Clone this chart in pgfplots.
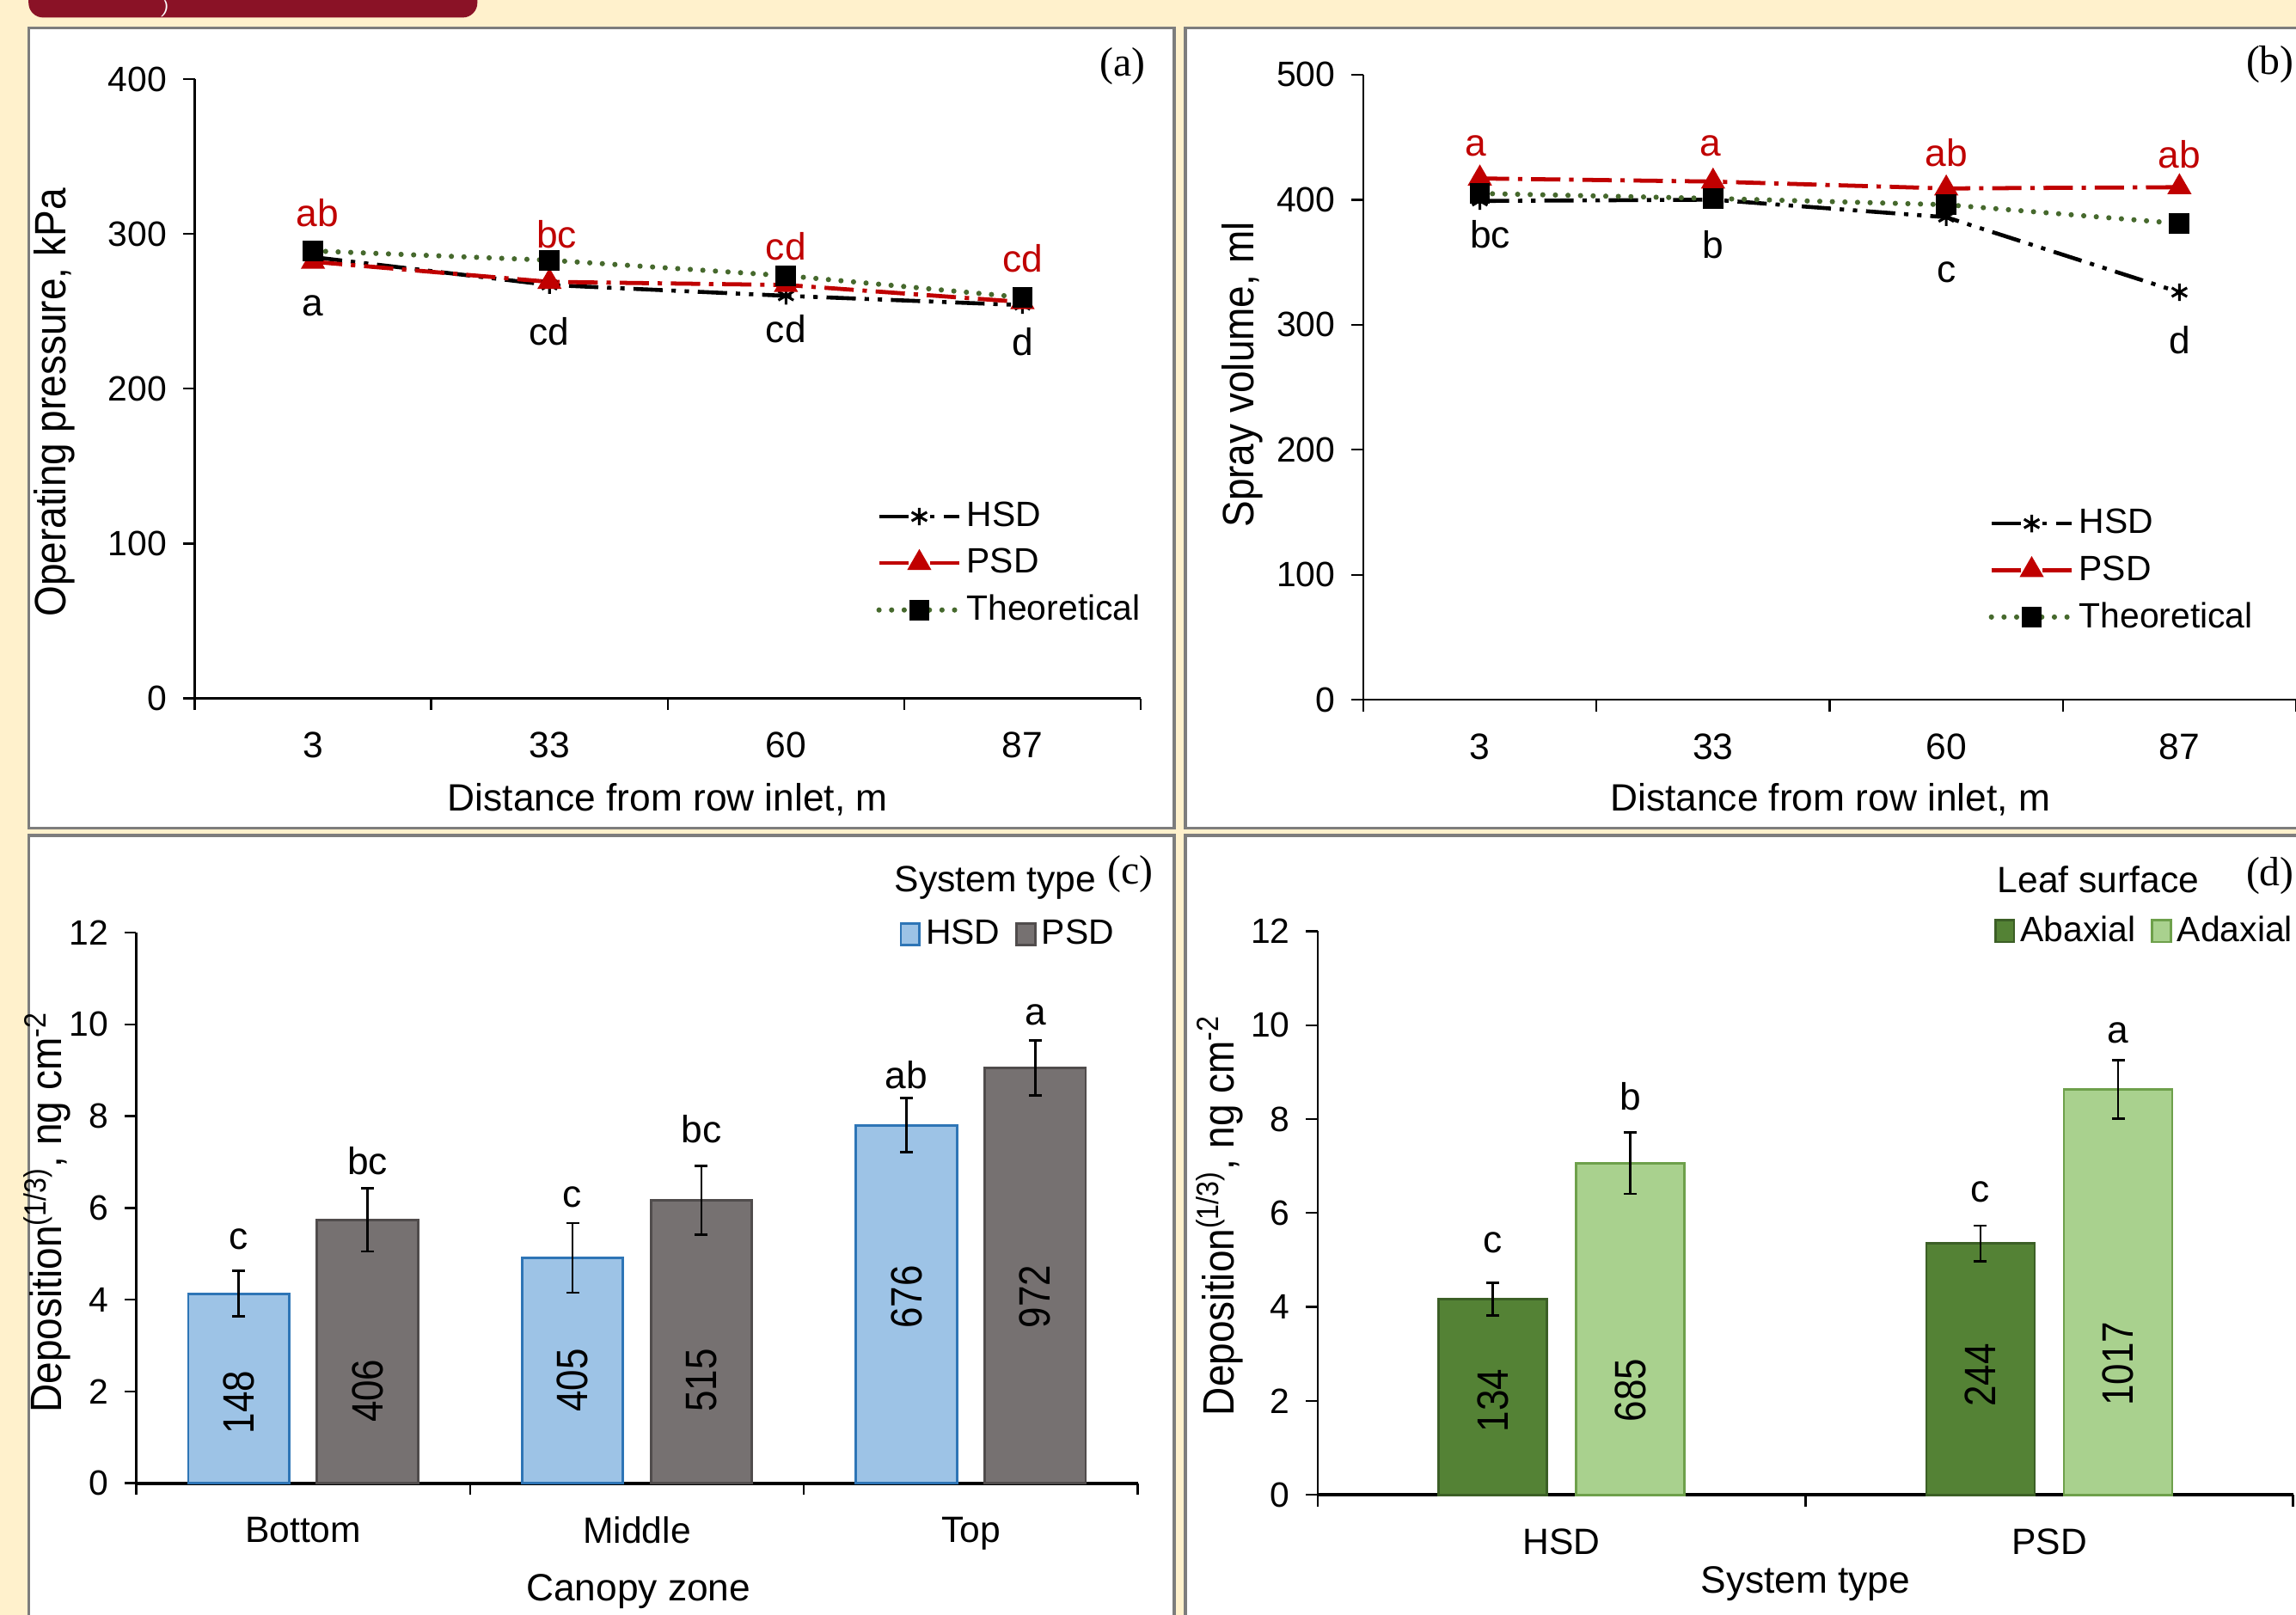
\documentclass[border=0pt]{standalone}
\usepackage{pgfplots}
\pgfplotsset{compat=1.18}
\usepackage{fontspec}
\setmainfont{Liberation Sans}
\newfontfamily\panelfont{Liberation Serif}
\newfontfamily\rotfont[FakeStretch=0.86]{Liberation Sans}
\newfontfamily\labfont[FakeStretch=0.9]{Liberation Sans}
\newcommand{\fs}[1]{\fontsize{#1}{#1}\selectfont}
\definecolor{cream}{RGB}{255,241,204}
\definecolor{tabred}{RGB}{138,18,38}
\definecolor{lred}{RGB}{192,0,0}
\definecolor{dotgreen}{RGB}{70,105,45}
\definecolor{hsdfill}{RGB}{157,195,230}
\definecolor{hsdedge}{RGB}{46,117,182}
\definecolor{psdfill}{RGB}{118,113,113}
\definecolor{psdedge}{RGB}{80,76,76}
\definecolor{abfill}{RGB}{84,130,53}
\definecolor{abedge}{RGB}{60,95,38}
\definecolor{adfill}{RGB}{169,209,142}
\definecolor{adedge}{RGB}{110,160,75}
\definecolor{frame}{RGB}{125,125,125}

\tikzset{
  redletter/.style={text=lred, font=\fs{13}},
  blackletter/.style={text=black, font=\fs{13}},
  barnum/.style={rotate=90, font=\rotfont\fs{15}},
}
\pgfplotsset{
  panel/.style={
    scale only axis, anchor=south west, clip=false,
    axis x line*=bottom, axis y line*=left,
    x axis line style={-, black, line width=0.7pt},
    y axis line style={-, black, line width=0.7pt},
    tick align=outside, major tick length=4pt,
    tick style={black, line width=0.7pt},
    xticklabels={},
    extra x tick style={tick style={draw=none}, tick label style={font=\fs{12.5}, yshift=-4pt}},
    yticklabel style={font=\fs{12}, xshift=-2pt},
    /pgf/number format/assume math mode=true,
    xlabel style={font=\fs{13}, anchor=center},
    ylabel style={font=\labfont\fs{15}, anchor=center},
  },
  hsd/.style={black, line width=1.35pt, dash pattern=on 10pt off 3pt on 1.5pt off 3pt on 1.5pt off 3pt,
    mark=asterisk, mark size=3pt, mark options={solid, line width=0.9pt}},
  psd/.style={lred, line width=1.4pt, dash pattern=on 10pt off 3pt on 1.5pt off 3pt,
    mark=triangle*, mark size=3.4pt, mark options={solid, fill=lred}},
  theo/.style={dotgreen, line width=1.8pt, line cap=round, dash pattern=on 0pt off 4.3pt,
    mark=square*, mark size=2.6pt, mark options={solid, black, fill=black}},
  linelegend/.style={
    legend style={draw=none, fill=none, inner sep=0pt, font=\fs{12}, row sep=3pt,
      nodes={inner sep=1.5pt}},
    legend cell align=left,
    legend image code/.code={\draw[mark repeat=2,mark phase=2,##1] plot coordinates {(0pt,0pt) (13.75pt,0pt) (27.5pt,0pt)};},
  },
  barlegend/.style={
    legend columns=2,
    legend style={draw=none, fill=none, inner sep=0pt, font=\fs{12},
      nodes={inner sep=1.75pt}, /tikz/every even column/.append style={column sep=3.5pt}},
    legend image code/.code={\draw[##1] (0pt,-3.7pt) rectangle (6.4pt,3.7pt);},
  },
}

\begin{document}
\begin{tikzpicture}[x=1pt,y=1pt]
\fill[cream] (0,0) rectangle (784,551.5);
\useasboundingbox (0,0) rectangle (784,551.5);
\clip (0,0) rectangle (784,551.5);
% top tab
\fill[tabred, rounded corners=5pt] (9.75,545.5) rectangle (163,565);
\node[text=white, font=\fs{6}\itshape, inner sep=0pt] at (56.5,548.5) {)};
% panel frames
\filldraw[fill=white, draw=frame, line width=1pt] (9.75,268.75) rectangle (401,542);
\filldraw[fill=white, draw=frame, line width=1pt] (404.75,268.75) rectangle (790,542);
\filldraw[fill=white, draw=frame, line width=1pt] (9.75,-5) rectangle (401,266.25);
\filldraw[fill=white, draw=frame, line width=1pt] (404.75,-5) rectangle (790,266.25);

% ---------------- (a) ----------------
\begin{axis}[panel, linelegend, at={(66.5pt,313pt)}, width=323pt, height=211.5pt,
  xmin=-0.5, xmax=3.5, ymin=0, ymax=400,
  xtick={-0.5,0.5,1.5,2.5,3.5},
  extra x ticks={0,1,2,3}, extra x tick labels={3,33,60,87},
  ytick={0,100,200,300,400},
  xlabel={Distance from row inlet, m},
  ylabel={Operating pressure, kPa},
  xlabel style={at={(axis description cs:0.5,-0.163)}},
  ylabel style={at={(axis description cs:-0.1486,0.4775)}},
  legend style={at={(axis description cs:0.72,0.325)}, anchor=north west},
]
\addplot[hsd] coordinates {(0,285) (1,267) (2,260) (3,254)};
\addlegendentry{HSD}
\addplot[psd] coordinates {(0,282) (1,269) (2,267) (3,256)};
\addlegendentry{PSD}
\addplot[theo] coordinates {(0,289) (1,283) (2,273) (3,259)};
\addlegendentry{Theoretical}
\node[redletter] at (axis cs:0.02,313.5) {ab};
\node[redletter] at (axis cs:1.03,299.6) {bc};
\node[redletter] at (axis cs:2.0,292) {cd};
\node[redletter] at (axis cs:3.0,284) {cd};
\node[blackletter] at (axis cs:0,253.4) {a};
\node[blackletter] at (axis cs:1.0,236.7) {cd};
\node[blackletter] at (axis cs:2.0,238.6) {cd};
\node[blackletter] at (axis cs:3.0,230.2) {d};
\end{axis}

% ---------------- (b) ----------------
\begin{axis}[panel, linelegend, at={(465.5pt,312.5pt)}, width=318.5pt, height=213.5pt,
  xmin=-0.5, xmax=3.5, ymin=0, ymax=500,
  xtick={-0.5,0.5,1.5,2.5,3.5},
  extra x ticks={0,1,2,3}, extra x tick labels={3,33,60,87},
  ytick={0,100,200,300,400,500},
  xlabel={Distance from row inlet, m},
  ylabel={Spray volume, ml},
  xlabel style={at={(axis description cs:0.5008,-0.159)}},
  ylabel style={at={(axis description cs:-0.130,0.52)}},
  legend style={at={(axis description cs:0.67,0.313)}, anchor=north west},
]
\addplot[hsd] coordinates {(0,399) (1,400) (2,386) (3,326)};
\addlegendentry{HSD}
\addplot[psd] coordinates {(0,417) (1,414.5) (2,409) (3,410)};
\addlegendentry{PSD}
\addplot[theo] coordinates {(0,405) (1,401) (2,396) (3,381)};
\addlegendentry{Theoretical}
\node[redletter] at (axis cs:-0.016,443) {a};
\node[redletter] at (axis cs:0.99,443) {a};
\node[redletter] at (axis cs:2.0,437.5) {ab};
\node[redletter] at (axis cs:3.0,436) {ab};
\node[blackletter] at (axis cs:0.044,372) {bc};
\node[blackletter] at (axis cs:1.0,364) {b};
\node[blackletter] at (axis cs:2.0,342) {c};
\node[blackletter] at (axis cs:3.0,288) {d};
\end{axis}

% ---------------- (c) ----------------
\begin{axis}[panel, at={(46.5pt,45pt)}, width=342pt, height=188pt,
  x axis line style={line width=1.2pt},
  xmin=-0.5, xmax=2.5, ymin=0, ymax=12,
  xtick={-0.5,0.5,1.5,2.5},
  extra x ticks={0,1,2}, extra x tick labels={Bottom,Middle,Top},
  ytick={0,2,4,6,8,10,12},
  ybar=9.5pt, bar width=34.5pt, barlegend,
  xlabel={Canopy zone},
  ylabel={Deposition\textsuperscript{(1/3)}, ng cm\textsuperscript{-2}},
  xlabel style={at={(axis description cs:0.5015,-0.197)}},
  ylabel style={at={(axis description cs:-0.089,0.492)}},
  legend style={at={(axis description cs:0.7617,0.997)}, anchor=west},
  error bars/error bar style={black, line width=0.8pt},
  error bars/error mark options={black, rotate=90, mark size=2.2pt, line width=0.8pt},
]
\addplot[fill=hsdfill, draw=hsdedge, line width=0.8pt,
  error bars/.cd, y dir=both, y explicit]
  coordinates {(0,4.13) +- (0,0.50) (1,4.91) +- (0,0.76) (2,7.80) +- (0,0.59)};
\addlegendentry{HSD}
\addplot[fill=psdfill, draw=psdedge, line width=0.8pt,
  error bars/.cd, y dir=both, y explicit]
  coordinates {(0,5.74) +- (0,0.69) (1,6.16) +- (0,0.75) (2,9.05) +- (0,0.60)};
\addlegendentry{PSD}
\node[blackletter] at (axis cs:-0.193,5.32) {c};
\node[blackletter] at (axis cs:0.193,7.03) {bc};
\node[blackletter] at (axis cs:0.807,6.24) {c};
\node[blackletter] at (axis cs:1.193,7.72) {bc};
\node[blackletter] at (axis cs:1.807,8.89) {ab};
\node[blackletter] at (axis cs:2.193,10.2) {a};
\node[barnum] at (axis cs:-0.193,1.76) {148};
\node[barnum] at (axis cs:0.193,2.01) {406};
\node[barnum] at (axis cs:0.807,2.24) {405};
\node[barnum] at (axis cs:1.193,2.24) {515};
\node[barnum] at (axis cs:1.807,4.06) {676};
\node[barnum] at (axis cs:2.193,4.07) {972};
\node[font=\fs{12.5}] at (axis description cs:0.858,1.090) {System type};
\end{axis}

% ---------------- (d) ----------------
\begin{axis}[panel, at={(450pt,41pt)}, width=333pt, height=192.5pt,
  x axis line style={line width=1.2pt},
  xmin=-0.5, xmax=1.5, ymin=0, ymax=12,
  xtick={-0.5,0.5,1.5},
  extra x ticks={0,1}, extra x tick labels={HSD,PSD},
  ytick={0,2,4,6,8,10,12},
  ybar=10pt, bar width=37pt, barlegend,
  xlabel={System type},
  ylabel={Deposition\textsuperscript{(1/3)}, ng cm\textsuperscript{-2}},
  xlabel style={at={(axis description cs:0.5,-0.158)}},
  ylabel style={at={(axis description cs:-0.1006,0.496)}},
  legend style={at={(axis description cs:1.0053,1.0)}, anchor=east},
  error bars/error bar style={black, line width=0.8pt},
  error bars/error mark options={black, rotate=90, mark size=2.2pt, line width=0.8pt},
]
\addplot[fill=abfill, draw=abedge, line width=0.8pt,
  error bars/.cd, y dir=both, y explicit]
  coordinates {(0,4.17) +- (0,0.35) (1,5.35) +- (0,0.38)};
\addlegendentry{Abaxial}
\addplot[fill=adfill, draw=adedge, line width=0.8pt,
  error bars/.cd, y dir=both, y explicit]
  coordinates {(0,7.06) +- (0,0.65) (1,8.63) +- (0,0.62)};
\addlegendentry{Adaxial}
\node[blackletter] at (axis cs:-0.141,5.37) {c};
\node[blackletter] at (axis cs:0.141,8.48) {b};
\node[blackletter] at (axis cs:0.859,6.45) {c};
\node[blackletter] at (axis cs:1.141,9.83) {a};
\node[barnum] at (axis cs:-0.141,2.01) {134};
\node[barnum] at (axis cs:0.141,2.23) {685};
\node[barnum] at (axis cs:0.859,2.55) {244};
\node[barnum] at (axis cs:1.141,2.79) {1017};
\end{axis}
\node[font=\fs{12.5}] at (716.5,251) {Leaf surface};

% panel labels
\node[font=\panelfont\fs{14}] at (383.25,529) {(a)};
\node[font=\panelfont\fs{14}, anchor=east, inner sep=0.5pt] at (784,529.5) {(b)};
\node[font=\panelfont\fs{14}] at (386,253) {(c)};
\node[font=\panelfont\fs{14}, anchor=east, inner sep=0.5pt] at (784,252.5) {(d)};
\end{tikzpicture}
\end{document}
